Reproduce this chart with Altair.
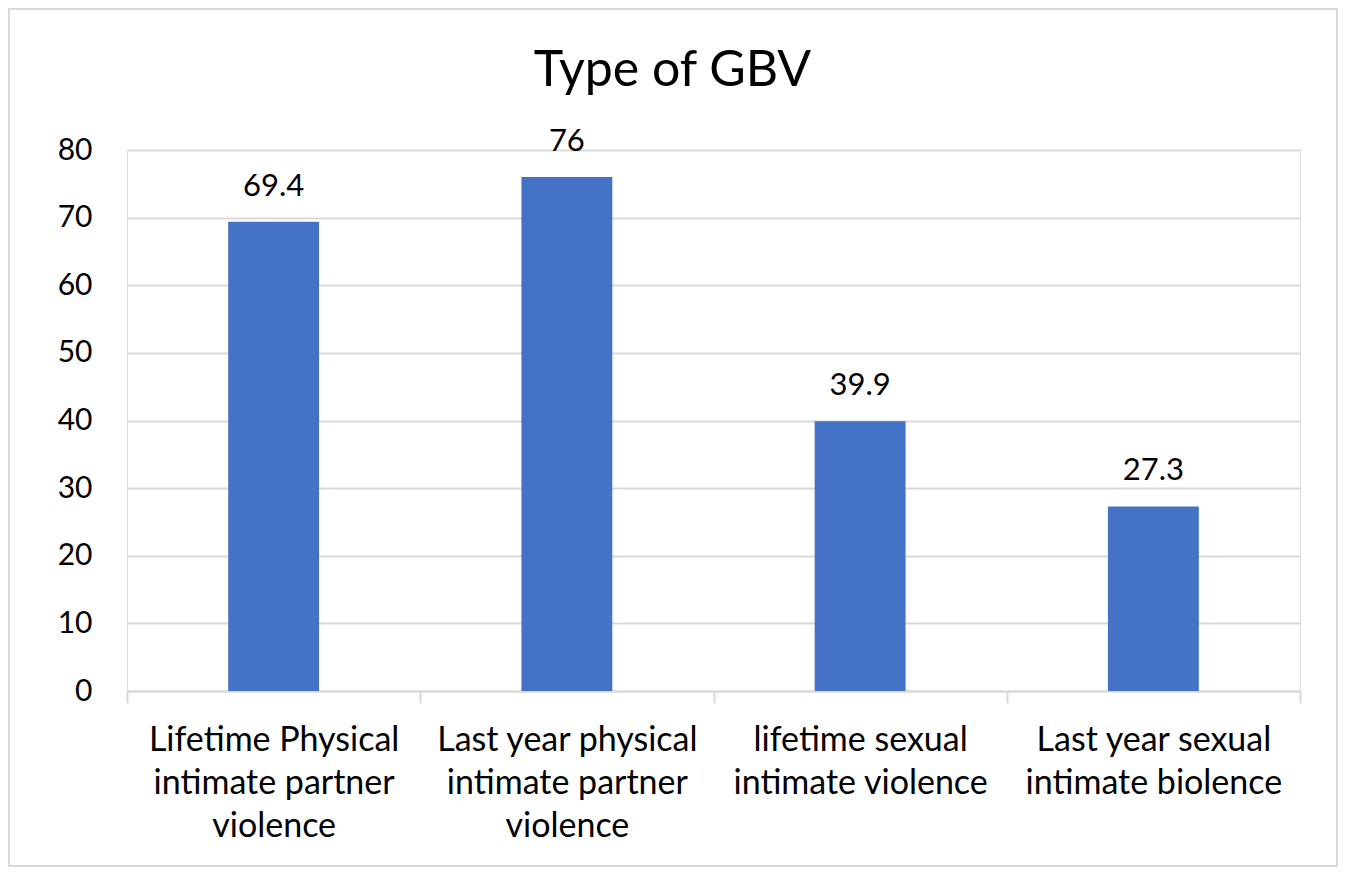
import altair as alt
import pandas as pd

categories = [
    "Lifetime Physical|intimate partner|violence",
    "Last year physical|intimate partner|violence",
    "lifetime sexual|intimate violence",
    "Last year sexual|intimate biolence",
]
values = [69.4, 76, 39.9, 27.3]
value_labels = ["69.4", "76", "39.9", "27.3"]
y_ticks = [0, 10, 20, 30, 40, 50, 60, 70, 80]
title_text = "Type of GBV"

df = pd.DataFrame({"cat": categories, "val": values, "lab": value_labels})

W, H = 1173, 541
FONT = "Lato"
GRID = "#d9d9d9"

x_enc = alt.X(
    "cat:N",
    sort=None,
    title=None,
    scale=alt.Scale(paddingInner=0, paddingOuter=0),
    axis=alt.Axis(
        labelAngle=0,
        labelExpr="isValid(datum.value) ? split(datum.value, '|') : ''",
        labelFont=FONT,
        labelFontSize=34,
        labelColor="#000000",
        labelLineHeight=43,
        labelBaseline="alphabetic",
        labelPadding=47,
        labelLimit=400,
        domainColor=GRID,
        domainWidth=2,
        ticks=True,
        tickBand="extent",
        tickSize=12,
        tickColor=GRID,
        tickWidth=2,
        grid=False,
    ),
)
y_enc = alt.Y(
    "val:Q",
    title=None,
    scale=alt.Scale(domain=[0, 80], nice=False),
    axis=alt.Axis(
        values=y_ticks,
        labelFont=FONT,
        labelFontSize=30,
        labelColor="#000000",
        labelPadding=35,
        ticks=False,
        domain=False,
        grid=True,
        gridColor=GRID,
        gridWidth=2,
    ),
)

bars = alt.Chart(df).mark_bar(
    color="#4472C4", width=alt.RelativeBandSize(0.31)
).encode(x=x_enc, y=y_enc)

texts = alt.Chart(df).mark_text(
    font=FONT, fontSize=31, color="#000000", baseline="alphabetic", dy=-26
).encode(x=alt.X("cat:N", sort=None), y="val:Q", text="lab:N")

frame = alt.Chart(alt.Data(values=[{"f": 1}])).mark_rect(
    fill=None, stroke=GRID, strokeWidth=2
).encode(
    x=alt.value(-118), x2=alt.value(W + 37), y=alt.value(-141), y2=alt.value(H + 175)
)

chart = alt.layer(frame, bars, texts).properties(
    width=W,
    height=H,
    padding={"left": 119, "top": 142, "right": 38, "bottom": 176},
    autosize=alt.AutoSizeParams(type="none"),
    title=alt.TitleParams(
        text=title_text,
        font=FONT,
        fontSize=50,
        fontWeight="normal",
        color="#000000",
        anchor="middle",
        baseline="alphabetic",
        offset=-128,
        dx=-41,
    ),
).configure_view(stroke=None).configure(background="white")

chart.save("out.html", embed_options={"renderer": "svg", "actions": False})
